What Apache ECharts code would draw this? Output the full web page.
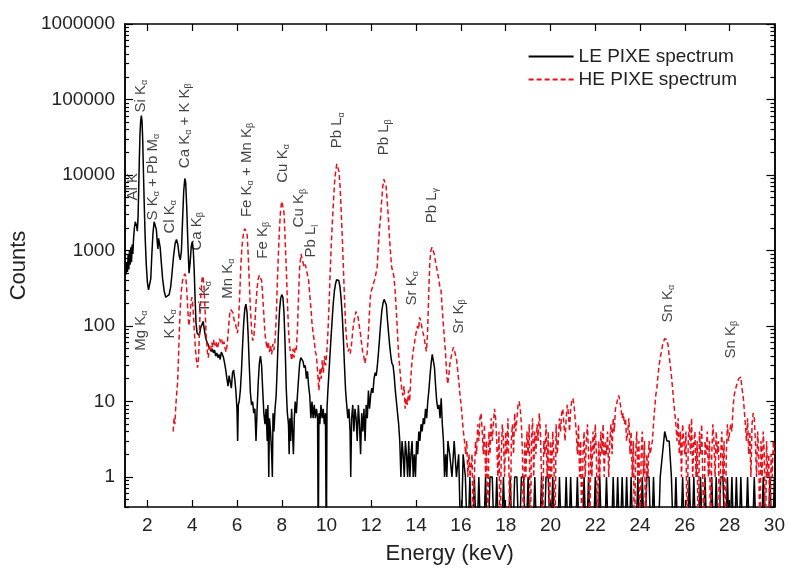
<!DOCTYPE html>
<html>
<head>
<meta charset="utf-8">
<script src="https://cdn.jsdelivr.net/npm/echarts@6/dist/echarts.min.js"></script>
<style>
  html, body { margin: 0; padding: 0; background: #fff; }
  #chart { width: 788px; height: 574px; }
</style>
</head>
<body>
<div id="chart"></div>
<script>
// LE PIXE spectrum, [energy keV, counts]
const leMain = [
  [1.05, 480], [1.08, 700], [1.11, 520], [1.14, 900], [1.17, 560], [1.20, 1000], [1.23, 650], [1.26, 1100],
  [1.29, 700], [1.32, 1200], [1.35, 900], [1.38, 1400], [1.42, 2000], [1.46, 2400], [1.49, 2500], [1.52, 2100],
  [1.55, 1800], [1.58, 2600], [1.61, 6000], [1.64, 16000], [1.67, 35000], [1.70, 52000], [1.73, 61000], [1.76, 52000],
  [1.79, 30000], [1.82, 12000], [1.86, 4000], [1.90, 1500], [1.95, 650], [2.00, 380], [2.05, 300], [2.10, 290],
  [2.15, 420], [2.20, 900], [2.25, 1700], [2.30, 2400], [2.35, 2500], [2.40, 1900], [2.44, 1300], [2.47, 1050],
  [2.50, 1450], [2.53, 1500], [2.57, 1100], [2.62, 700], [2.68, 420], [2.75, 290], [2.82, 240], [2.90, 230],
  [2.97, 260], [3.04, 330], [3.10, 500], [3.17, 850], [3.24, 1250], [3.30, 1400], [3.36, 1200], [3.42, 850],
  [3.47, 750], [3.52, 1000], [3.57, 2500], [3.62, 6000], [3.67, 9000], [3.71, 8000], [3.76, 3500], [3.81, 1200],
  [3.86, 500], [3.91, 700], [3.96, 1150], [4.01, 1300], [4.05, 1000], [4.09, 550], [4.13, 230], [4.17, 110],
  [4.22, 80], [4.27, 85], [4.32, 75], [4.38, 95], [4.44, 105], [4.49, 115], [4.54, 90], [4.60, 70],
  [4.65, 62], [4.70, 58], [4.75, 52], [4.80, 55], [4.85, 46], [4.90, 50], [4.95, 44], [5.00, 48],
  [5.05, 40], [5.10, 44], [5.15, 38], [5.20, 42], [5.25, 36], [5.30, 45], [5.35, 42], [5.40, 38],
  [5.45, 32], [5.50, 26], [5.55, 20], [5.60, 16], [5.65, 22], [5.70, 18], [5.75, 15], [5.80, 24],
  [5.85, 26], [5.90, 20], [5.95, 14], [6.00, 8], [6.03, 3], [6.06, 9], [6.10, 10], [6.15, 14],
  [6.20, 25], [6.25, 55], [6.30, 110], [6.35, 170], [6.40, 195], [6.45, 150], [6.50, 75], [6.55, 30],
  [6.60, 13], [6.65, 9], [6.70, 10], [6.75, 7], [6.80, 8], [6.85, 3], [6.90, 8], [6.95, 18],
  [7.00, 32], [7.05, 40], [7.10, 30], [7.15, 14], [7.20, 7], [7.25, 5], [7.30, 8], [7.35, 3],
  [7.38, 9], [7.42, 1], [7.45, 6], [7.50, 4], [7.55, 2], [7.58, 1], [7.61, 7], [7.65, 4],
  [7.70, 8], [7.75, 12], [7.80, 30], [7.85, 80], [7.90, 160], [7.95, 230], [8.00, 260], [8.05, 240],
  [8.10, 150], [8.15, 55], [8.20, 15], [8.25, 7], [8.30, 5], [8.33, 2], [8.36, 6], [8.40, 3],
  [8.44, 8], [8.48, 4], [8.52, 2], [8.56, 6], [8.60, 10], [8.65, 7], [8.70, 12], [8.75, 20],
  [8.80, 32], [8.85, 38], [8.90, 40], [8.95, 34], [9.00, 28], [9.05, 30], [9.10, 20], [9.15, 25],
  [9.20, 16], [9.25, 12], [9.30, 6], [9.35, 10], [9.40, 6], [9.45, 9], [9.50, 6], [9.55, 8],
  [9.60, 6], [9.63, 0], [9.66, 7], [9.70, 5], [9.75, 9], [9.80, 6], [9.85, 8], [9.90, 5],
  [9.95, 7], [9.99, 0], [10.02, 8], [10.06, 14], [10.10, 22], [10.15, 40], [10.20, 70], [10.25, 120],
  [10.30, 200], [10.35, 290], [10.40, 360], [10.45, 410], [10.50, 425], [10.55, 400], [10.60, 330], [10.65, 230],
  [10.70, 140], [10.75, 70], [10.80, 30], [10.85, 14], [10.90, 9], [10.95, 6], [11.00, 8], [11.05, 4],
  [11.08, 1], [11.12, 6], [11.17, 9], [11.22, 4], [11.27, 8], [11.32, 6], [11.37, 3], [11.42, 9],
  [11.47, 5], [11.52, 2], [11.57, 7], [11.62, 4], [11.67, 8], [11.72, 3], [11.77, 9], [11.82, 6],
  [11.87, 14], [11.92, 8], [11.97, 12], [12.02, 15], [12.07, 13], [12.12, 20], [12.17, 24], [12.22, 22],
  [12.27, 30], [12.32, 45], [12.37, 70], [12.42, 110], [12.47, 160], [12.52, 200], [12.57, 225], [12.62, 230],
  [12.67, 190], [12.72, 120], [12.77, 80], [12.82, 55], [12.87, 40], [12.92, 32], [12.97, 30], [13.02, 22],
  [13.07, 14], [13.12, 10], [13.17, 7], [13.22, 5], [13.27, 3], [13.32, 1], [13.37, 3], [13.42, 2],
  [13.47, 1], [13.52, 3], [13.57, 2], [13.62, 1], [13.67, 3], [13.72, 1], [13.77, 2], [13.82, 3],
  [13.87, 1], [13.92, 2], [13.97, 1], [14.02, 3], [14.07, 2], [14.12, 4], [14.17, 3], [14.22, 5],
  [14.27, 4], [14.32, 6], [14.37, 5], [14.42, 8], [14.47, 6], [14.52, 10], [14.57, 14], [14.62, 22],
  [14.67, 32], [14.72, 42], [14.77, 40], [14.82, 28], [14.87, 16], [14.92, 10], [14.97, 8], [15.02, 9],
  [15.07, 6], [15.12, 11], [15.17, 5], [15.22, 3], [15.27, 1], [15.32, 2], [15.37, 1], [15.42, 3]
];
// LE tail, one value per 0.1 keV from 15.5 keV
const leTailStart = 15.5;
const leTail = [
  2, 1, 3, 1, 2, 0, 2, 1, 0, 1,
  0, 1, 0, 1, 0, 0, 1, 0, 1, 1,
  0, 1, 0, 0, 1, 0, 0, 1, 0, 1,
  1, 0, 1, 1, 0, 1, 0, 0, 1, 0,
  0, 1, 0, 1, 1, 0, 1, 0, 0, 1,
  0, 0, 1, 0, 1, 0, 0, 1, 0, 0,
  1, 0, 1, 0, 0, 1, 0, 1, 0, 0,
  1, 0, 0, 1, 0, 1, 0, 1, 0, 1,
  0, 1, 0, 0, 1, 0, 1, 0, 1, 1,
  0, 1, 0, 0, 1, 2, 4, 3, 3, 1,
  0, 1, 0, 0, 1, 0, 0, 1, 0, 1,
  0, 0, 1, 0, 1, 0, 0, 1, 0, 1,
  0, 1, 1, 0, 1, 0, 1, 0, 1, 0,
  1, 0, 0, 1, 0, 0, 1, 0, 0, 0,
  1, 0, 0, 1, 0, 1
];

// HE PIXE spectrum
const heMain = [
  [3.15, 4], [3.19, 6], [3.23, 5], [3.27, 9], [3.31, 13], [3.35, 18], [3.39, 40], [3.43, 90],
  [3.47, 180], [3.52, 300], [3.57, 400], [3.62, 450], [3.67, 490], [3.71, 460], [3.75, 330], [3.80, 170],
  [3.85, 100], [3.90, 130], [3.95, 210], [3.99, 240], [4.04, 170], [4.09, 90], [4.14, 52], [4.19, 35],
  [4.24, 28], [4.29, 40], [4.34, 120], [4.39, 260], [4.44, 420], [4.48, 460], [4.53, 330], [4.58, 150],
  [4.63, 70], [4.68, 45], [4.72, 38], [4.77, 55], [4.82, 48], [4.87, 60], [4.92, 52], [4.97, 66],
  [5.02, 55], [5.07, 62], [5.12, 50], [5.17, 58], [5.22, 68], [5.27, 60], [5.32, 66], [5.37, 55],
  [5.42, 62], [5.47, 50], [5.52, 45], [5.57, 60], [5.62, 90], [5.67, 140], [5.72, 165], [5.77, 175],
  [5.82, 150], [5.87, 120], [5.92, 110], [5.97, 95], [6.02, 80], [6.07, 110], [6.12, 250], [6.17, 600],
  [6.22, 1100], [6.28, 1600], [6.34, 1950], [6.40, 2050], [6.45, 1700], [6.50, 900], [6.55, 380], [6.60, 170],
  [6.65, 90], [6.70, 64], [6.75, 70], [6.80, 110], [6.85, 200], [6.90, 320], [6.95, 420], [7.00, 470],
  [7.05, 480], [7.10, 400], [7.15, 250], [7.20, 140], [7.25, 80], [7.30, 60], [7.35, 50], [7.40, 62],
  [7.45, 45], [7.50, 55], [7.55, 42], [7.60, 58], [7.65, 48], [7.70, 65], [7.75, 120], [7.80, 350],
  [7.85, 900], [7.90, 2000], [7.95, 3500], [8.00, 4500], [8.05, 4600], [8.10, 3200], [8.15, 1400], [8.20, 600],
  [8.25, 220], [8.30, 90], [8.35, 55], [8.40, 42], [8.45, 35], [8.50, 50], [8.55, 38], [8.60, 52],
  [8.65, 48], [8.70, 90], [8.75, 250], [8.80, 600], [8.86, 900], [8.92, 750], [9.00, 600], [9.05, 650],
  [9.10, 560], [9.15, 540], [9.20, 400], [9.25, 260], [9.30, 175], [9.35, 110], [9.40, 80], [9.45, 64],
  [9.50, 46], [9.55, 40], [9.60, 25], [9.66, 14], [9.71, 28], [9.76, 20], [9.81, 35], [9.86, 24],
  [9.91, 40], [9.96, 30], [10.01, 45], [10.06, 80], [10.11, 180], [10.16, 500], [10.21, 1200], [10.26, 2400],
  [10.31, 4500], [10.36, 8000], [10.41, 11500], [10.46, 14000], [10.51, 14300], [10.56, 11000], [10.61, 6500], [10.66, 3000],
  [10.71, 1300], [10.76, 500], [10.81, 200], [10.86, 90], [10.91, 60], [10.96, 46], [11.01, 50], [11.06, 43],
  [11.11, 55], [11.16, 80], [11.21, 110], [11.26, 130], [11.31, 155], [11.36, 160], [11.41, 130], [11.46, 100],
  [11.51, 80], [11.56, 60], [11.61, 46], [11.66, 40], [11.71, 32], [11.76, 38], [11.81, 43], [11.86, 70],
  [11.91, 140], [11.96, 250], [12.01, 300], [12.06, 330], [12.11, 380], [12.16, 420], [12.21, 440], [12.26, 600],
  [12.31, 1100], [12.36, 1900], [12.41, 2700], [12.46, 4500], [12.51, 7000], [12.56, 8800], [12.61, 9000], [12.66, 7000],
  [12.71, 4500], [12.76, 2700], [12.81, 1500], [12.86, 900], [12.91, 600], [12.96, 520], [13.01, 450], [13.06, 300],
  [13.11, 170], [13.16, 90], [13.21, 46], [13.26, 30], [13.31, 20], [13.36, 14], [13.41, 12], [13.46, 16],
  [13.51, 8], [13.56, 11], [13.61, 9], [13.66, 14], [13.71, 10], [13.76, 20], [13.81, 32], [13.86, 45],
  [13.91, 55], [13.96, 70], [14.01, 85], [14.06, 100], [14.11, 90], [14.16, 130], [14.21, 115], [14.26, 95],
  [14.31, 80], [14.36, 70], [14.41, 55], [14.46, 46], [14.51, 80], [14.56, 250], [14.61, 700], [14.66, 1000],
  [14.71, 1100], [14.76, 1050], [14.81, 900], [14.86, 720], [14.91, 600], [14.96, 500], [15.01, 420], [15.06, 330],
  [15.11, 300], [15.16, 180], [15.21, 110], [15.26, 70], [15.31, 45], [15.36, 25], [15.41, 17], [15.46, 22],
  [15.51, 32], [15.56, 38], [15.61, 45], [15.66, 52], [15.71, 48], [15.76, 50], [15.81, 35], [15.86, 25],
  [15.91, 18], [15.96, 12], [16.01, 9], [16.06, 6], [16.11, 4], [16.16, 3], [16.21, 2], [16.26, 3],
  [16.31, 1], [16.36, 2], [16.41, 1]
];
// HE tail, one value per 0.05 keV from 16.5 keV
const heTailStart = 16.5;
const heTailStep = 0.05;
const heTail = [
  2, 0, 1, 3, 2, 5, 3, 6, 7, 4,
  2, 5, 1, 3, 0, 4, 2, 6, 3, 5,
  8, 6, 3, 1, 4, 0, 2, 5, 3, 1,
  4, 2, 6, 1, 0, 3, 5, 2, 7, 4,
  6, 9, 10, 8, 5, 2, 0, 3, 1, 4,
  2, 5, 0, 3, 6, 1, 4, 2, 5, 3,
  7, 4, 1, 0, 3, 2, 5, 1, 4, 0,
  3, 1, 4, 2, 0, 5, 2, 3, 6, 4,
  7, 8, 5, 3, 6, 9, 7, 4, 8, 10,
  11, 9, 6, 4, 2, 5, 1, 3, 0, 2,
  4, 1, 3, 5, 2, 0, 3, 1, 4, 2,
  5, 2, 0, 3, 1, 4, 2, 5, 1, 3,
  2, 4, 1, 3, 5, 2, 6, 4, 8, 9,
  11, 12, 10, 8, 6, 7, 5, 6, 3, 4,
  6, 2, 4, 1, 3, 0, 2, 4, 1, 3,
  0, 2, 4, 1, 3, 0, 2, 1, 3, 2,
  2, 3, 5, 8, 12, 15, 22, 30, 38, 45,
  55, 62, 68, 70, 66, 55, 40, 30, 22, 15,
  10, 7, 5, 3, 6, 2, 4, 1, 5, 3,
  2, 4, 0, 3, 5, 2, 6, 1, 3, 4,
  1, 3, 0, 4, 2, 5, 1, 0, 3, 2,
  4, 1, 3, 0, 2, 5, 3, 1, 4, 2,
  3, 0, 2, 4, 1, 3, 0, 2, 5, 3,
  3, 5, 4, 8, 12, 14, 16, 18, 20, 19,
  21, 15, 12, 8, 5, 3, 6, 2, 4, 1,
  5, 7, 6, 3, 1, 4, 2, 0, 3, 1,
  4, 2, 0, 3, 1, 2, 0, 2, 1, 3,
  2
];

// peak annotations: label, energy (keV), counts at the foot of the label
const peakLabels = [
  'Al K', 'Si K{s|α}', 'Mg K{s|α}', 'S K{s|α} + Pb M{s|α}', 'Cl K{s|α}', 'K K{s|α}',
  'Ca K{s|α} + K K{s|β}', 'Ca K{s|β}', 'Ti K{s|α}', 'Mn K{s|α}', 'Fe K{s|α} + Mn K{s|β}', 'Fe K{s|β}',
  'Cu K{s|α}', 'Cu K{s|β}', 'Pb L{s|l}', 'Pb L{s|α}', 'Pb L{s|β}', 'Sr K{s|α}',
  'Pb L{s|γ}', 'Sr K{s|β}', 'Sn K{s|α}', 'Sn K{s|β}'
];
const peakEnergy = [
  1.36, 1.69, 1.69, 2.25, 3.0, 3.0,
  3.67, 4.2, 4.56, 5.58, 6.43, 7.14,
  8.03, 8.78, 9.32, 10.47, 12.57, 13.81,
  14.7, 15.9, 25.24, 28.05
];
const peakCount = [
  4600, 67000, 47, 2500, 1680, 68,
  12300, 1000, 152, 230, 2770, 780,
  7900, 2020, 807, 22600, 18200, 187,
  2290, 79, 111, 37
];

const xTicks = [2, 4, 6, 8, 10, 12, 14, 16, 18, 20, 22, 24, 26, 28, 30];
const yTicks = [1, 10, 100, 1000, 10000, 100000, 1000000];

const ZERO = 0.1; // zero counts sit below the axis floor on a log scale
const yMinor = [];
for (let k = -1; k <= 5; k++) {
  for (let m = 2; m <= 9; m++) {
    const v = m * Math.pow(10, k);
    if (v >= 0.4) yMinor.push(v);
  }
}

const leData = leMain.map(p => [p[0], p[1] || ZERO])
  .concat(leTail.map((v, i) => [+(leTailStart + i * 0.1).toFixed(2), v || ZERO]));
const heData = heMain.map(p => [p[0], p[1] || ZERO])
  .concat(heTail.map((v, i) => [+(heTailStart + i * heTailStep).toFixed(2), v || ZERO]));
const peakData = peakLabels.map((t, i) => [peakEnergy[i], peakCount[i], t]);

const font = '"Liberation Sans", Arial, sans-serif';
const axisLine = { show: true, onZero: false, lineStyle: { color: '#000', width: 1.5 } };

function yAxisDef(position, ticks, len, withLabels) {
  return {
    type: 'log',
    position: position,
    min: 0.4,
    max: 1000000,
    axisLine: axisLine,
    axisTick: { show: true, inside: true, length: len, customValues: ticks, lineStyle: { color: '#000', width: 1.2 } },
    axisLabel: withLabels
      ? { show: true, customValues: yTicks, fontSize: 19, fontFamily: font, color: '#222', margin: 10,
          formatter: v => String(Math.round(v)) }
      : { show: false },
    splitLine: { show: false }
  };
}

const chart = echarts.init(document.getElementById('chart'));
const leftAxis = yAxisDef('left', yTicks, 8, true);
leftAxis.name = 'Counts';
leftAxis.nameLocation = 'middle';
leftAxis.nameGap = 83;
leftAxis.nameTextStyle = { fontSize: 22, fontFamily: font, color: '#222' };

const option = {
  animation: false,
  backgroundColor: '#fff',
  grid: { left: 125, right: 11, top: 24, bottom: 67 },
  legend: {
    data: ['LE PIXE spectrum', 'HE PIXE spectrum'],
    orient: 'vertical',
    right: 46,
    top: 42,
    itemWidth: 45,
    itemHeight: 14,
    itemGap: 4,
    itemStyle: { opacity: 0 },
    textStyle: { fontSize: 19, fontFamily: font, color: '#222' }
  },
  xAxis: [
    {
      type: 'value',
      min: 1,
      max: 30,
      position: 'bottom',
      axisLine: axisLine,
      axisTick: { inside: true, length: 7, customValues: xTicks, lineStyle: { color: '#000', width: 1.2 } },
      axisLabel: { customValues: xTicks, fontSize: 19, fontFamily: font, color: '#222', margin: 9 },
      splitLine: { show: false },
      name: 'Energy (keV)',
      nameLocation: 'middle',
      nameGap: 36,
      nameTextStyle: { fontSize: 22, fontFamily: font, color: '#222' }
    },
    {
      type: 'value',
      min: 1,
      max: 30,
      position: 'top',
      axisLine: axisLine,
      axisTick: { inside: true, length: 7, customValues: xTicks, lineStyle: { color: '#000', width: 1.2 } },
      axisLabel: { show: false },
      splitLine: { show: false }
    }
  ],
  yAxis: [
    leftAxis,
    yAxisDef('left', yMinor, 4, false),
    yAxisDef('right', yTicks, 8, false),
    yAxisDef('right', yMinor, 4, false)
  ],
  series: [
    {
      name: 'LE PIXE spectrum',
      type: 'line',
      data: leData,
      showSymbol: false,
      symbol: 'none',
      clip: true,
      lineStyle: { color: '#000', width: 1.5 },
      itemStyle: { color: '#000' }
    },
    {
      name: 'HE PIXE spectrum',
      type: 'line',
      data: heData,
      showSymbol: false,
      symbol: 'none',
      clip: true,
      lineStyle: { color: '#e8101a', width: 1.5, type: [5, 3] },
      itemStyle: { color: '#e8101a' }
    },
    {
      name: 'peaks',
      type: 'scatter',
      data: peakData,
      symbolSize: 1,
      itemStyle: { color: 'rgba(0,0,0,0)' },
      silent: true,
      label: {
        show: true,
        position: 'inside',
        rotate: 90,
        align: 'left',
        verticalAlign: 'middle',
        fontSize: 15,
        fontFamily: font,
        color: '#111',
        formatter: p => p.value[2],
        rich: {
          s: { fontSize: 9, fontFamily: font, color: '#111', padding: [8, 0, 0, 0] }
        }
      }
    }
  ]
};
chart.setOption(option);
</script>
</body>
</html>
